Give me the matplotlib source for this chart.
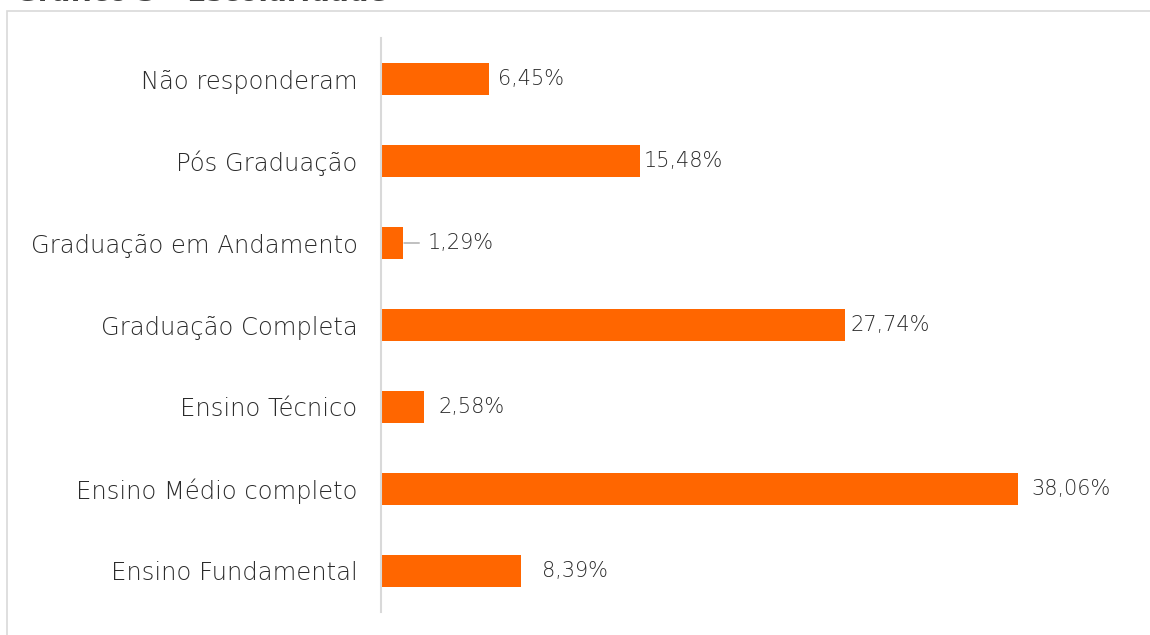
import matplotlib.pyplot as plt
from matplotlib.patches import Rectangle

categorias = ["Ensino Fundamental", "Ensino Médio completo", "Ensino Técnico",
              "Graduação Completa", "Graduação em Andamento", "Pós Graduação",
              "Não responderam"]
valores = [8.39, 38.06, 2.58, 27.74, 1.29, 15.48, 6.45]
rotulos = ["8,39%", "38,06%", "2,58%", "27,74%", "1,29%", "15,48%", "6,45%"]
# deslocamento (px) do rótulo em relação ao fim da barra, como no original
desloc = [20, 13, 14, 5, 17, 3, 9]

plt.rcParams['font.family'] = ['DejaVu Sans']
laranja = "#ff6600"
cinza_txt = "#2b2b2b"

fig = plt.figure(figsize=(11.5, 6.35), dpi=100)

# moldura do gráfico (cortada à direita e embaixo)
fig.patches.append(Rectangle((7 / 1150, -0.05), 1.1, 625 / 635 + 0.05 - 0.001,
                             transform=fig.transFigure, fill=False,
                             edgecolor="#d9d9d9", lw=1.2))
# título, quase todo fora da imagem
fig.text(15 / 1150, 1 - 0.6 / 635, "Gráfico 3 - Escolaridade", fontsize=20,
         fontweight="bold", color="#404040", va="baseline", ha="left")

ax = fig.add_axes([381 / 1150, 23 / 635, 755 / 1150, 574 / 635])
y = range(len(categorias))
ax.barh(y, valores, height=0.39, color=laranja)

ax.set_ylim(-0.5, 6.5)
ax.set_xlim(0, 45.1)
ax.set_yticks(list(y))
ax.set_yticklabels(categorias, fontsize=17.5, color=cinza_txt, fontweight="light")
ax.tick_params(axis="y", length=0, pad=17)
ax.set_xticks([])
for s in ["top", "right", "bottom"]:
    ax.spines[s].set_visible(False)
ax.spines["left"].set_color("#d9d9d9")
ax.spines["left"].set_linewidth(1.5)

for i, (v, r, d) in enumerate(zip(valores, rotulos, desloc)):
    if v < 2:
        ax.annotate(r, xy=(v, i), xytext=(d + 1, 0), textcoords="offset points",
                    va="center", ha="left", fontsize=15, color=cinza_txt,
                    fontweight="light",
                    arrowprops=dict(arrowstyle="-", color="#a6a6a6", lw=1,
                                    shrinkA=4, shrinkB=1))
    else:
        ax.annotate(r, xy=(v, i), xytext=(d * 0.75, 0), textcoords="offset points",
                    va="center", ha="left", fontsize=15, color=cinza_txt,
                    fontweight="light")

fig.savefig("out.png", dpi=100)
